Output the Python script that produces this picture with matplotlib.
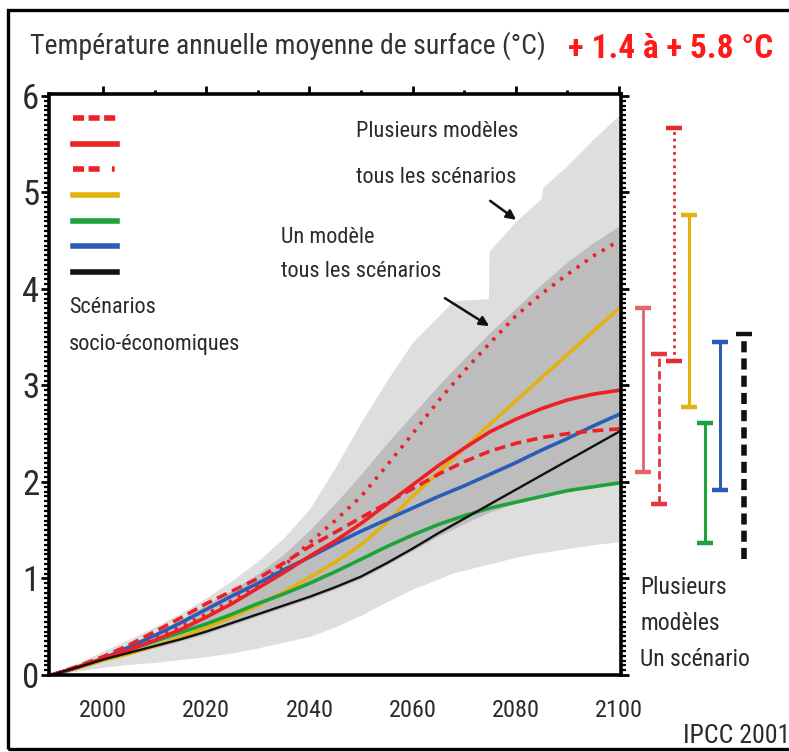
import matplotlib
matplotlib.use("Agg")
import matplotlib.pyplot as plt
from matplotlib.lines import Line2D
from matplotlib.patches import Rectangle
from matplotlib import font_manager as fm
import numpy as np


def pick(fams):
    for f in fams:
        try:
            fm.findfont(fm.FontProperties(family=f), fallback_to_default=False)
            return f
        except Exception:
            pass
    return "DejaVu Sans"


NARROW = pick(["Liberation Sans Narrow", "Arial Narrow", "Roboto Condensed", "Liberation Sans"])
plt.rcParams["font.family"] = [NARROW, "DejaVu Sans"]

# ---------------- data ----------------
years = [1990, 1995, 2000, 2005, 2010, 2015, 2020, 2025, 2030, 2035, 2040, 2045,
         2050, 2055, 2060, 2065, 2070, 2075, 2080, 2085, 2090, 2095, 2100]

red_dashed = [0, 0.09, 0.19, 0.31, 0.45, 0.59, 0.74, 0.87, 1.00, 1.16, 1.33, 1.48,
              1.63, 1.78, 1.93, 2.08, 2.21, 2.32, 2.40, 2.46, 2.50, 2.53, 2.55]
red_solid = [0, 0.08, 0.17, 0.26, 0.36, 0.47, 0.60, 0.74, 0.90, 1.06, 1.23, 1.39,
             1.57, 1.77, 1.97, 2.17, 2.35, 2.52, 2.65, 2.76, 2.85, 2.91, 2.95]
red_dotted = [0, 0.08, 0.17, 0.27, 0.38, 0.50, 0.63, 0.77, 0.93, 1.13, 1.37, 1.60,
              1.85, 2.17, 2.50, 2.84, 3.15, 3.44, 3.72, 3.95, 4.15, 4.34, 4.50]
yellow = [0, 0.07, 0.15, 0.22, 0.30, 0.39, 0.49, 0.60, 0.72, 0.86, 1.01, 1.17,
          1.35, 1.58, 1.85, 2.10, 2.35, 2.60, 2.84, 3.08, 3.32, 3.56, 3.80]
green = [0, 0.08, 0.17, 0.26, 0.35, 0.44, 0.53, 0.63, 0.74, 0.84, 0.95, 1.07,
         1.20, 1.33, 1.45, 1.56, 1.65, 1.73, 1.79, 1.85, 1.91, 1.95, 1.99]
blue = [0, 0.08, 0.17, 0.29, 0.41, 0.54, 0.68, 0.82, 0.95, 1.09, 1.22, 1.36,
        1.49, 1.61, 1.73, 1.85, 1.96, 2.08, 2.20, 2.33, 2.45, 2.58, 2.70]
black = [0, 0.08, 0.16, 0.23, 0.30, 0.37, 0.45, 0.54, 0.63, 0.72, 0.81, 0.91,
         1.02, 1.16, 1.31, 1.47, 1.62, 1.77, 1.92, 2.07, 2.22, 2.37, 2.52]

# envelope: one model, all scenarios (dark grey)
env_one_upper = [0, 0.09, 0.19, 0.30, 0.43, 0.57, 0.73, 0.88, 1.05, 1.25, 1.50, 1.78,
                 2.08, 2.40, 2.70, 3.00, 3.28, 3.55, 3.80, 4.05, 4.28, 4.48, 4.65]
env_one_lower = [0, 0.07, 0.15, 0.21, 0.28, 0.35, 0.43, 0.52, 0.61, 0.70, 0.79, 0.89,
                 1.00, 1.14, 1.29, 1.44, 1.57, 1.69, 1.78, 1.85, 1.90, 1.95, 1.98]

# envelope: several models, all scenarios (light grey)
env_all_years = [1990, 1995, 2000, 2005, 2010, 2015, 2020, 2025, 2030, 2035, 2040, 2045,
                 2050, 2055, 2060, 2068, 2074.7, 2074.8, 2080, 2085, 2085.2, 2090, 2095, 2100]
env_all_upper = [0, 0.12, 0.25, 0.37, 0.50, 0.64, 0.80, 0.98, 1.18, 1.42, 1.72, 2.15,
                 2.62, 3.05, 3.45, 3.88, 3.90, 4.39, 4.70, 4.94, 5.05, 5.28, 5.55, 5.80]
env_all_lower = [0, 0.04, 0.08, 0.11, 0.13, 0.16, 0.19, 0.23, 0.28, 0.34, 0.40, 0.50,
                 0.62, 0.76, 0.89, 1.06, 1.15, 1.15, 1.22, 1.27, 1.27, 1.31, 1.35, 1.38]

# ranges in 2100 (several models, one scenario)
range_low = [2.10, 1.77, 3.25, 2.78, 1.37, 1.92, 1.20]
range_high = [3.80, 3.33, 5.67, 4.77, 2.61, 3.45, 3.53]

xtick_labels = ["2000", "2020", "2040", "2060", "2080", "2100"]
xticks = [2000, 2020, 2040, 2060, 2080, 2100]
yticks = [0, 1, 2, 3, 4, 5, 6]

# ---------------- styles ----------------
RED = "#ec2027"
YEL = "#e3b20c"
GRN = "#1ea33c"
BLU = "#2b5cb8"
BLK = "#111111"
LIGHT = "#dedede"
DARK = "#bdbdbd"
TXT = "#2a2a2a"

W, H = 789, 752
fig = plt.figure(figsize=(W / 100, H / 100), dpi=100)
fig.patch.set_facecolor("white")

# outer frame
fig.add_artist(Rectangle((8 / W, 3 / H), 1.2, (749 - 10) / H, transform=fig.transFigure,
                         fill=False, lw=2.4, ec="black"))

left_px, right_px, top_px, bot_px = 49, 621, 94, 675
ax = fig.add_axes([left_px / W, (H - bot_px) / H, (right_px - left_px) / W, (bot_px - top_px) / H])
ax.set_xlim(1989.5, 2100.4)
ax.set_ylim(0, 6.02)

ax.fill_between(env_all_years, env_all_lower, env_all_upper, color=LIGHT, lw=0, zorder=1)
ax.fill_between(years, env_one_lower, env_one_upper, color=DARK, lw=0, zorder=2)

ax.plot(years, red_dotted, color=RED, lw=2.6, ls=(0, (0.9, 1.9)), zorder=4)
ax.plot(years, yellow, color=YEL, lw=2.5, zorder=4)
ax.plot(years, green, color=GRN, lw=2.6, zorder=4)
ax.plot(years, black, color=BLK, lw=1.7, zorder=5)
ax.plot(years, blue, color=BLU, lw=2.6, zorder=4)
ax.plot(years, red_solid, color=RED, lw=2.6, zorder=4)
ax.plot(years, red_dashed, color=RED, lw=2.6, ls=(0, (3, 1.6)), zorder=4)

for s in ax.spines.values():
    s.set_linewidth(2.6)
    s.set_color("black")
    s.set_zorder(10)

ax.set_xticks(xticks)
ax.set_xticklabels(xtick_labels)
ax.set_xticks(np.arange(2010, 2100, 20), minor=True)
ax.tick_params(axis="x", which="both", direction="out", top=True, bottom=False,
               labelbottom=True, labeltop=False, width=2, colors="black", labelcolor=TXT)
ax.tick_params(axis="x", which="major", length=6, pad=11, labelsize=17.5)
ax.tick_params(axis="x", which="minor", length=3)

ax.set_yticks(yticks)
ax.set_yticks(np.arange(0, 6.01, 0.05), minor=True)
ax.tick_params(axis="y", which="both", direction="out", left=True, right=True,
               labelleft=True, labelright=False, colors="black", labelcolor=TXT)
ax.tick_params(axis="y", which="major", length=6, width=2, pad=1, labelsize=25)
ax.tick_params(axis="y", which="minor", length=3.5, width=1.6)

# legend (line styles of scenarios)
handles = [
    Line2D([], [], color=RED, lw=4, ls=(0, (2.0, 0.8))),
    Line2D([], [], color=RED, lw=4),
    Line2D([], [], color=RED, lw=4, ls=(0, (2.0, 0.8, 2.0, 2.2, 0.5, 6))),
    Line2D([], [], color=YEL, lw=4),
    Line2D([], [], color=GRN, lw=4),
    Line2D([], [], color=BLU, lw=4),
    Line2D([], [], color=BLK, lw=4),
]
leg = ax.legend(handles, [""] * 7, loc="upper left", bbox_to_anchor=(0.042, 0.968),
                frameon=False, fontsize=10, handlelength=3.2, handleheight=1.0,
                labelspacing=0.84, borderpad=0, borderaxespad=0, handletextpad=0)

ax.text(0.035, 0.632, "Scénarios", transform=ax.transAxes, fontsize=16, color=TXT,
        va="center", ha="left")
ax.text(0.035, 0.568, "socio-économiques", transform=ax.transAxes, fontsize=16, color=TXT,
        va="center", ha="left")

ax.text(2049, 5.63, "Plusieurs modèles", fontsize=16, color=TXT, va="center", ha="left")
ax.text(2049, 5.15, "tous les scénarios", fontsize=16, color=TXT, va="center", ha="left")
ax.text(2034.5, 4.53, "Un modèle", fontsize=16, color=TXT, va="center", ha="left")
ax.text(2034.5, 4.18, "tous les scénarios", fontsize=16, color=TXT, va="center", ha="left")
ax.annotate("", xy=(2080.5, 4.70), xytext=(2074.6, 4.93),
            arrowprops=dict(arrowstyle="-|>", color=BLK, lw=1.8, mutation_scale=14))
ax.annotate("", xy=(2075.3, 3.60), xytext=(2065.8, 3.92),
            arrowprops=dict(arrowstyle="-|>", color=BLK, lw=1.8, mutation_scale=14))

# right-hand range bars
bar_pos = [0, 1, 2, 3, 4, 5, 6.5]
bar_colors = ["#e4646c", "#e8343c", "#e42a30", YEL, GRN, BLU, BLK]
bar_styles = ["-", (0, (3, 1.5)), (0, (1, 1.4)), "-", "-", "-", (0, (2.0, 1.1))]
bar_lw = [2.0, 2.0, 2.0, 2.2, 2.2, 2.2, 4.0]
ax2 = fig.add_axes([630 / W, (H - bot_px) / H, 130 / W, (bot_px - top_px) / H])
ax2.set_xlim(-0.84, 7.55)
ax2.set_ylim(0, 6.02)
ax2.axis("off")
for i in range(len(bar_pos)):
    ax2.vlines(bar_pos[i], range_low[i], range_high[i], color=bar_colors[i],
               lw=bar_lw[i], linestyles=[bar_styles[i]])
    ax2.plot([bar_pos[i]], [range_high[i]], marker="_", ms=11, mew=3.2, color=bar_colors[i])
    if i != 6:
        ax2.plot([bar_pos[i]], [range_low[i]], marker="_", ms=11, mew=3.2, color=bar_colors[i])

fig.text(640 / W, 1 - 588 / H, "Plusieurs", fontsize=17, color=TXT, va="center", ha="left")
fig.text(640 / W, 1 - 623 / H, "modèles", fontsize=17, color=TXT, va="center", ha="left")
fig.text(640 / W, 1 - 660 / H, "Un scénario", fontsize=17, color=TXT, va="center", ha="left")
fig.text(683 / W, 1 - 736 / H, "IPCC 2001", fontsize=18.5, color=TXT, va="center", ha="left")

fig.text(30 / W, 1 - 46 / H, "Température annuelle moyenne de surface (°C)", fontsize=20,
         color="#333333", va="center", ha="left")
fig.text(568 / W, 1 - 49 / H, "+ 1.4 à + 5.8 °C", fontsize=24, fontweight="bold",
         color="#ff1a1a", va="center", ha="left")

fig.savefig("out.png", dpi=100)
